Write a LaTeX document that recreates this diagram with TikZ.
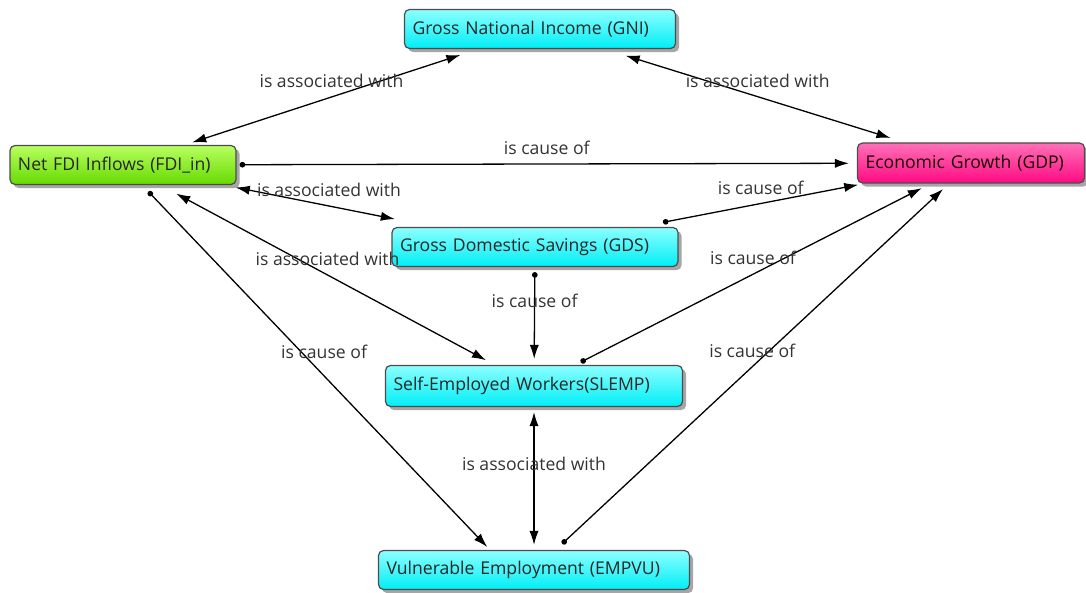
\documentclass[tikz,border=0pt]{standalone}
\usepackage{fontspec}
\setmainfont{Open Sans}
\usetikzlibrary{arrows.meta,shadows}

\definecolor{cyantop}{HTML}{8CFFFF}
\definecolor{cyanbot}{HTML}{00EEF6}
\definecolor{greentop}{HTML}{B8FF60}
\definecolor{greenbot}{HTML}{66DA00}
\definecolor{pinktop}{HTML}{FF70B8}
\definecolor{pinkbot}{HTML}{FF0A82}

\tikzset{
  concept/.style={rectangle, rounded corners=2.5pt, draw=black!70, line width=0.6pt,
    top color=cyantop, bottom color=cyanbot, inner xsep=4pt, inner ysep=0pt,
    minimum height=19.5pt, align=left, text=black!85,
    drop shadow={shadow xshift=1.8pt, shadow yshift=-1.8pt, fill=black, opacity=0.35}},
  greenbox/.style={concept, top color=greentop, bottom color=greenbot},
  pinkbox/.style={concept, top color=pinktop, bottom color=pinkbot, text=black!90!red},
  lbl/.style={yshift=8pt, text=black!80, inner sep=0pt},
  vlbl/.style={text=black!80, inner sep=0pt, fill=none},
  assoc/.style={{Latex[length=7pt, width=4.6pt]}-{Latex[length=7pt, width=4.6pt]}, line width=0.65pt},
  cause/.style={{Circle[length=2.8pt]}-{Latex[length=7pt, width=4.6pt]}, line width=0.65pt}
}

\begin{document}
\begin{tikzpicture}[x=0.5pt, y=-0.5pt, every node/.style={font=\fontsize{8.8}{10.5}\selectfont}]
  \useasboundingbox (0,0) rectangle (1086,593);

  % --- Concepts (positions) ---
  \node[concept, text width=127.5pt] (gni)   at (540,29)  {Gross National Income (GNI)};
  \node[greenbox, text width=105pt]  (fdi)   at (123,165) {Net FDI Inflows (FDI\_in)};
  \node[pinkbox, text width=105.5pt, minimum height=20pt] (gdp) at (971,163) {Economic Growth (GDP)};
  \node[concept, text width=135pt]   (gds)   at (535,247) {Gross Domestic Savings (GDS)};
  \node[concept, text width=140.5pt, minimum height=20.5pt] (slemp) at (534,386) {Self-Employed Workers(SLEMP)};
  \node[concept, text width=147.5pt] (empvu) at (534,570) {Vulnerable Employment (EMPVU)};

  % --- Links between concepts ---
  \draw[assoc, shorten <=4pt, shorten >=9.5pt] (fdi) -- node[lbl, pos=0.5] (l1) {is associated with} (gni);
  \draw[assoc, shorten <=11pt, shorten >=7.5pt] (gni) -- node[lbl, pos=0.51] (l2) {is associated with} (gdp);
  \draw[cause, shorten <=1.5pt, shorten >=4pt] (fdi) -- node[lbl, pos=0.5] (l3) {is cause of} (gdp);
  \draw[assoc, shorten <=6pt, shorten >=20pt] (fdi) -- node[lbl, pos=0.5] (l4) {is associated with} (gds);
  \draw[cause, shorten <=12pt, shorten >=3pt] (gds) -- node[lbl, pos=0.54] (l5) {is cause of} (gdp);
  \draw[assoc, shorten <=9pt, shorten >=5pt] (fdi) -- node[lbl, pos=0.5] (l6) {is associated with} (slemp);
  \draw[cause, shorten <=2.5pt, shorten >=3pt] (gds) -- node[vlbl, pos=0.35] (l7) {is cause of} (slemp);
  \draw[cause, shorten <=3pt, shorten >=5pt] (slemp) -- node[lbl, pos=0.5] (l8) {is cause of} (gdp);
  \draw[cause, shorten <=4.5pt, shorten >=2pt] (fdi) -- node[lbl, pos=0.5, xshift=4pt] (l9) {is cause of} ([xshift=-22pt]empvu.north);
  \draw[assoc, shorten <=2.5pt, shorten >=2.5pt] (slemp) -- node[vlbl, pos=0.4] (l10) {is associated with} (empvu);
  \draw[cause, shorten <=4.5pt, shorten >=4pt] (empvu) -- node[lbl, pos=0.5] (l11) {is cause of} (gdp);
\end{tikzpicture}
\end{document}
